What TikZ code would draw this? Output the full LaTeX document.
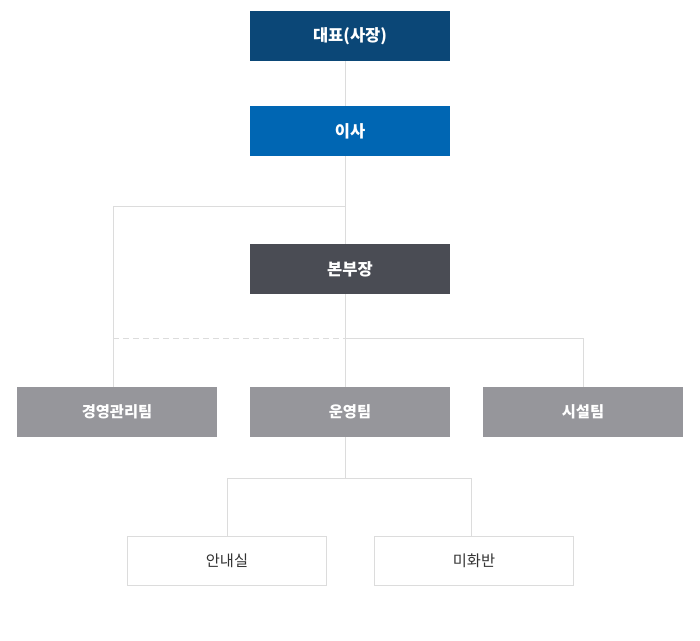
\documentclass[tikz,border=0pt]{standalone}
\usepackage{fontspec}
\setmainfont{Noto Sans CJK KR}
\definecolor{navy}{HTML}{0B4777}
\definecolor{blue}{HTML}{0066B3}
\definecolor{slate}{HTML}{4A4C54}
\definecolor{team}{HTML}{96969B}
\definecolor{ln}{HTML}{DCDCDC}
\pgfdeclarelayer{bg}
\pgfsetlayers{bg,main}
\begin{document}
\begin{tikzpicture}[x=1pt,y=-1pt,
  box/.style={rectangle,minimum width=200pt,minimum height=50pt,inner sep=0pt,text=white,font=\fontsize{16.5}{19}\selectfont\bfseries},
  tbox/.style={box,fill=team,font=\fontsize{15.3}{18}\selectfont\bfseries},
  wbox/.style={rectangle,minimum width=199pt,minimum height=49pt,inner sep=0pt,draw=ln,line width=1pt,fill=white,text=black!80,font=\fontsize{15.3}{18}\selectfont},
  conn/.style={draw=ln,line width=1pt},
  dconn/.style={conn,dash pattern=on 6pt off 4pt}]
\useasboundingbox (0,0) rectangle (700,640);
\node[box,fill=navy] (ceo) at (350,36) {대표(사장)};
\node[box,fill=blue] (dir) at (350,131) {이사};
\node[box,fill=slate] (hq) at (350,269) {본부장};
\node[tbox] (mgmt) at (117,412) {경영관리팀};
\node[tbox] (ops) at (350,412) {운영팀};
\node[tbox] (fac) at (583,412) {시설팀};
\node[wbox] (info) at (227,560.5) {안내실};
\node[wbox] (clean) at (474,560.5) {미화반};
\coordinate (c) at (345,0);
\coordinate (j1) at (345,206);
\coordinate (j1l) at (113,206);
\coordinate (j2) at (345,338);
\coordinate (j3) at (345,478);
\coordinate (j3l) at (227,478);
\coordinate (j3r) at (471,478);
\begin{pgfonlayer}{bg}
\fill[white] (0,0) rectangle (700,640);
\path[conn] (c |- ceo.south) -- (c |- ops.north);
\path[conn] (j1) -- (j1l) -- (j1l |- mgmt.north);
\path[dconn] (j2 -| j1l) -- (j2);
\path[conn] (j2) -- (j2 -| fac.north) -- (fac.north);
\path[conn] (c |- ops.south) -- (j3);
\path[conn] (j3l) -- (j3r);
\path[conn] (j3l) -- (j3l |- info.north);
\path[conn] (j3r) -- (j3r |- clean.north);
\end{pgfonlayer}
\end{tikzpicture}
\end{document}
